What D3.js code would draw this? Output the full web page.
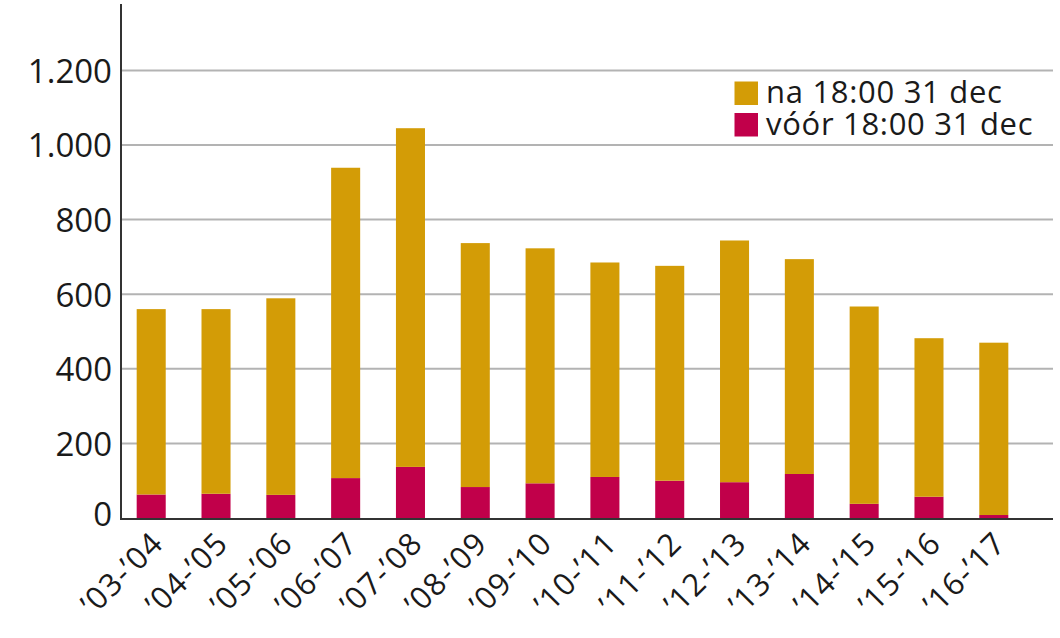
<!DOCTYPE html>
<html><head><meta charset="utf-8">
<script src="https://cdn.jsdelivr.net/npm/d3@7"></script>
<style>
html,body{margin:0;padding:0;background:#fff;}
svg{display:block;}
text{font-family:"Open Sans",sans-serif;fill:#1a1a1a;}
</style></head>
<body><svg id="c" width="1060" height="638"></svg>
<script>
const categories = ["’03-’04","’04-’05","’05-’06","’06-’07","’07-’08","’08-’09","’09-’10","’10-’11","’11-’12","’12-’13","’13-’14","’14-’15","’15-’16","’16-’17"];
const voor = [63, 65, 62, 107, 137, 83, 93, 110, 100, 96, 118, 38, 57, 8];
const na   = [497, 495, 527, 832, 908, 654, 630, 575, 576, 648, 576, 529, 425, 462];
const seriesNames = ["na 18:00 31 dec", "vóór 18:00 31 dec"];
const yTicks = [0, 200, 400, 600, 800, 1000, 1200];

const colors = {voor:"#C1004A", na:"#D39C06"};
const svg = d3.select("#c");
const x = d3.scaleBand().domain(categories).range([121, 1024]).paddingInner(0.552).paddingOuter(0.242);
const y = d3.scaleLinear().domain([0, 1378]).range([518, 4]);
const fmt = v => v >= 1000 ? d3.format(",")(v).replace(",", ".") : String(v);

// gridlines
svg.append("g").selectAll("line").data(yTicks.filter(d=>d>0)).join("line")
  .attr("x1",121).attr("x2",1053).attr("y1",d=>y(d)).attr("y2",d=>y(d))
  .attr("stroke","#b3b3b3").attr("stroke-width",2);

// y axis labels
const yAxis = d3.axisLeft(y).tickValues(yTicks).tickFormat(fmt).tickSize(0).tickPadding(9);
const ga = svg.append("g").attr("transform","translate(121,0)").call(yAxis);
ga.select(".domain").remove();
ga.selectAll("text").attr("font-size",33).attr("font-family","Open Sans, sans-serif").attr("fill","#1a1a1a")
  .attr("dy", d => d===0 ? "0.22em" : "0.36em");

// stacked bars
const stackData = categories.map((c,i)=>({cat:c, voor:voor[i], na:na[i]}));
const stack = d3.stack().keys(["voor","na"])(stackData);
svg.append("g").selectAll("g").data(stack).join("g")
  .attr("fill", s=>colors[s.key])
  .selectAll("rect").data(s=>s).join("rect")
  .attr("x", d=>x(d.data.cat)).attr("width", x.bandwidth())
  .attr("y", d=>y(d[1])).attr("height", d=>y(d[0])-y(d[1]));

// axes lines
svg.append("line").attr("x1",121).attr("x2",121).attr("y1",4).attr("y2",519).attr("stroke","#333").attr("stroke-width",2);
svg.append("line").attr("x1",120).attr("x2",1053).attr("y1",519).attr("y2",519).attr("stroke","#333").attr("stroke-width",2.2);

// x labels
const xAxis = d3.axisBottom(x).tickSize(0).tickPadding(0);
const gx = svg.append("g").attr("transform","translate(0,519)").call(xAxis);
gx.select(".domain").remove();
gx.selectAll("text").attr("font-size",31).attr("font-family","Open Sans, sans-serif").attr("fill","#1a1a1a")
  .attr("letter-spacing","1.4px")
  .attr("text-anchor","end").attr("dy",null).attr("y",null)
  .attr("transform","translate(14,26) rotate(-45)");

// legend
const leg = svg.append("g");
const legItems = [{name:seriesNames[0], c:colors.na, y:81.5},{name:seriesNames[1], c:colors.voor, y:113}];
leg.selectAll("rect").data(legItems).join("rect")
  .attr("x",734.5).attr("y",d=>d.y).attr("width",23.5).attr("height",23.5).attr("fill",d=>d.c);
leg.selectAll("text").data(legItems).join("text")
  .attr("x",766).attr("y",d=>d.y+21.5).attr("font-size",31).attr("letter-spacing","0.7px").text(d=>d.name);
</script></body></html>
